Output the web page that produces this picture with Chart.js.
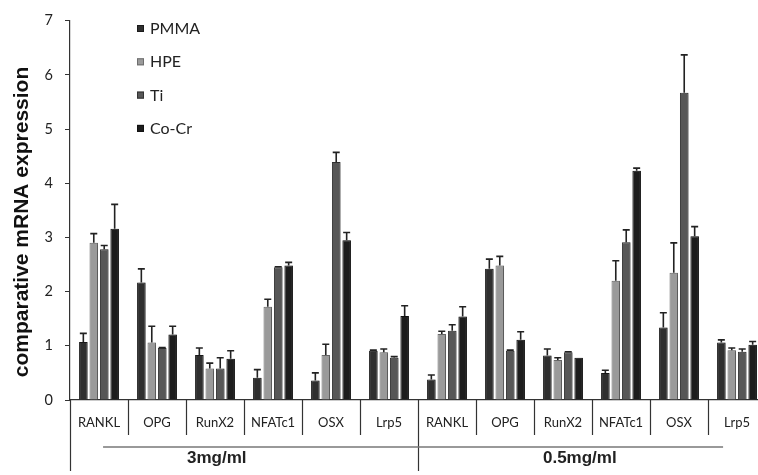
<!DOCTYPE html>
<html>
<head>
<meta charset="utf-8">
<script src="https://cdn.jsdelivr.net/npm/chart.js@4.4.1/dist/chart.umd.min.js"></script>
<style>
  html, body { margin: 0; padding: 0; background: #fff; overflow: hidden; }
  #wrap { width: 768px; height: 475px; }
</style>
</head>
<body>
<div id="wrap"><canvas id="chart" width="768" height="475"></canvas></div>
<script>
const categories = ["RANKL", "OPG", "RunX2", "NFATc1", "OSX", "Lrp5",
                    "RANKL", "OPG", "RunX2", "NFATc1", "OSX", "Lrp5"];
const groups = ["3mg/ml", "0.5mg/ml"];
const seriesNames = ["PMMA", "HPE", "Ti", "Co-Cr"];

const pmma    = [1.07, 2.17, 0.83, 0.41, 0.36, 0.91, 0.38, 2.42, 0.82, 0.50, 1.34, 1.06];
const pmmaErr = [0.16, 0.25, 0.13, 0.15, 0.14, 0.01, 0.08, 0.18, 0.12, 0.05, 0.27, 0.05];
const hpe     = [2.90, 1.06, 0.58, 1.72, 0.83, 0.88, 1.22, 2.48, 0.74, 2.20, 2.35, 0.92];
const hpeErr  = [0.17, 0.30, 0.10, 0.14, 0.20, 0.06, 0.05, 0.17, 0.04, 0.37, 0.55, 0.04];
const ti      = [2.78, 0.96, 0.58, 2.45, 4.39, 0.78, 1.28, 0.91, 0.88, 2.91, 5.67, 0.89];
const tiErr   = [0.07, 0.01, 0.20, 0.01, 0.18, 0.02, 0.11, 0.01, 0.01, 0.23, 0.70, 0.05];
const cocr    = [3.16, 1.21, 0.76, 2.48, 2.95, 1.55, 1.54, 1.11, 0.78, 4.23, 3.02, 1.02];
const cocrErr = [0.45, 0.15, 0.15, 0.06, 0.14, 0.19, 0.18, 0.15, 0.00, 0.05, 0.18, 0.06];

const yTicks = [0, 1, 2, 3, 4, 5, 6, 7];

const fills = ["#2f2f2f", "#9a9a9a", "#575757", "#1d1d1d"];
const edges = ["#1a1a1a", "#6e6e6e", "#333333", "#111111"];
const errs = [pmmaErr, hpeErr, tiErr, cocrErr];

// upper error whiskers, drawn from the bar elements
const errorBars = {
  id: "errorBars",
  afterDatasetsDraw(chart) {
    const ctx = chart.ctx;
    const y = chart.scales.y;
    ctx.save();
    ctx.strokeStyle = "#222";
    ctx.lineWidth = 1.6;
    chart.data.datasets.forEach((ds, i) => {
      const meta = chart.getDatasetMeta(i);
      meta.data.forEach((bar, j) => {
        const e = errs[i][j];
        if (!e) return;
        const top = y.getPixelForValue(ds.data[j] + e);
        ctx.beginPath();
        ctx.moveTo(bar.x, bar.y);
        ctx.lineTo(bar.x, top);
        ctx.moveTo(bar.x - 3.5, top);
        ctx.lineTo(bar.x + 3.5, top);
        ctx.stroke();
      });
    });
    ctx.restore();
  }
};

// soft shadow on the bars
const barShadow = {
  id: "barShadow",
  beforeDatasetsDraw(chart) {
    const ctx = chart.ctx;
    ctx.save();
    ctx.shadowColor = "rgba(0,0,0,0.28)";
    ctx.shadowOffsetX = 2;
    ctx.shadowOffsetY = 0;
    ctx.shadowBlur = 2;
  },
  afterDatasetsDraw(chart) {
    chart.ctx.restore();
  }
};

// category boxes, group labels, legend and y title
const decorations = {
  id: "decorations",
  afterDraw(chart) {
    const ctx = chart.ctx;
    const x = chart.scales.x;
    const area = chart.chartArea;
    const n = categories.length;
    const w = x.width / n;
    const base = area.bottom;
    ctx.save();
    ctx.strokeStyle = "#333";
    ctx.lineWidth = 1.2;
    // separators between categories
    for (let i = 1; i < n; i++) {
      const px = Math.round(x.left + i * w) + 0.5;
      const long = (i === n / 2);
      ctx.beginPath();
      ctx.moveTo(px, base);
      ctx.lineTo(px, base + (long ? 71 : 35));
      ctx.stroke();
    }
    // axis extension at left
    ctx.beginPath();
    ctx.moveTo(x.left + 0.5, base);
    ctx.lineTo(x.left + 0.5, base + 71);
    ctx.stroke();
    // horizontal group line
    ctx.strokeStyle = "#777";
    ctx.lineWidth = 1.5;
    ctx.beginPath();
    ctx.moveTo(x.getPixelForValue(0.07), base + 47);
    ctx.lineTo(x.getPixelForValue(10.76), base + 47);
    ctx.stroke();

    // category labels
    ctx.fillStyle = "#222";
    ctx.font = "13px Lato";
    ctx.textAlign = "center";
    ctx.textBaseline = "middle";
    categories.forEach((c, i) => {
      ctx.fillText(c, x.getPixelForValue(i), base + 23);
    });
    // group labels
    ctx.font = "bold 17px 'Liberation Sans'";
    ctx.fillText(groups[0], x.getPixelForValue(2.03), base + 58);
    ctx.fillText(groups[1], x.getPixelForValue(8.29), base + 58);

    // legend
    ctx.textAlign = "left";
    ctx.font = "16px Lato";
    seriesNames.forEach((s, i) => {
      const cy = 29 + i * 33.3;
      ctx.fillStyle = fills[i];
      ctx.fillRect(137, cy - 4, 7, 7);
      ctx.strokeStyle = edges[i];
      ctx.lineWidth = 1;
      ctx.strokeRect(137.5, cy - 3.5, 6, 6);
      ctx.fillStyle = "#222";
      ctx.fillText(s, 150, cy);
    });

    // y axis title
    ctx.translate(22, 222);
    ctx.rotate(-Math.PI / 2);
    ctx.textAlign = "center";
    ctx.font = "bold 21px 'Liberation Sans'";
    ctx.fillStyle = "#111";
    ctx.fillText("comparative mRNA expression", 0, 0);
    ctx.restore();
  }
};

const datasets = [pmma, hpe, ti, cocr].map((vals, i) => ({
  label: seriesNames[i],
  data: vals,
  backgroundColor: fills[i],
  borderColor: edges[i],
  borderWidth: 1,
  categoryPercentage: 0.72,
  barPercentage: 0.82
}));

new Chart(document.getElementById("chart"), {
  type: "bar",
  data: { labels: categories, datasets: datasets },
  options: {
    responsive: false,
    animation: false,
    layout: { padding: { top: 15, right: 2, bottom: 0, left: 0 } },
    plugins: {
      legend: { display: false },
      tooltip: { enabled: false }
    },
    scales: {
      x: {
        grid: { display: false },
        ticks: { display: false },
        border: { color: "#333", width: 1.2 },
        afterFit: s => { s.height = 75; }
      },
      y: {
        min: 0,
        max: 7,
        afterBuildTicks: s => { s.ticks = yTicks.map(v => ({ value: v })); },
        ticks: { font: { family: "Lato", size: 14.5 }, color: "#222", padding: 12 },
        grid: { drawOnChartArea: false, tickLength: 5, color: "#333" },
        border: { color: "#333", width: 1.2 },
        afterFit: s => { s.width = 70; }
      }
    }
  },
  plugins: [barShadow, errorBars, decorations]
});
</script>
</body>
</html>
